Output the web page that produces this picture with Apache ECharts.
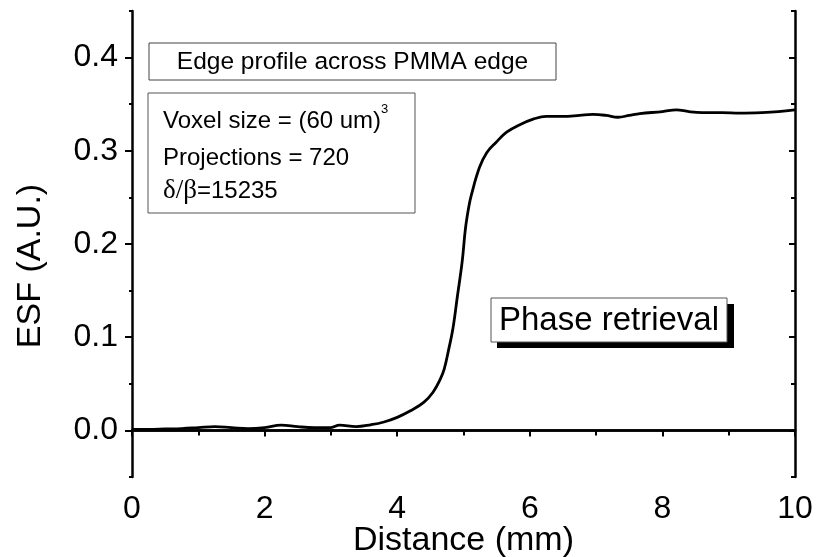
<!DOCTYPE html>
<html><head><meta charset="utf-8">
<script src="https://cdn.jsdelivr.net/npm/echarts@6/dist/echarts.min.js"></script>
<style>html,body{margin:0;padding:0;background:#fff}#c{width:816px;height:557px}</style>
</head><body><div id="c"></div>
<script>
const distance = [0, 0.25, 0.5, 0.75, 1.0, 1.25, 1.5, 1.75, 2.0, 2.25, 2.5, 2.75, 3.0, 3.13, 3.38, 3.6, 3.8, 4.0, 4.2, 4.4, 4.54, 4.65, 4.71, 4.78, 4.84, 4.91, 4.98, 5.03, 5.08, 5.12, 5.24, 5.35, 5.49, 5.65, 5.85, 6.05, 6.25, 6.5, 6.75, 6.95, 7.15, 7.33, 7.5, 7.66, 8.0, 8.21, 8.4, 8.6, 8.9, 9.17, 9.5, 9.75, 10.0];
const esf = [0.001, 0.001, 0.0015, 0.002, 0.003, 0.004, 0.003, 0.002, 0.003, 0.0057, 0.004, 0.003, 0.003, 0.0057, 0.004, 0.006, 0.009, 0.014, 0.021, 0.030, 0.041, 0.055, 0.066, 0.088, 0.109, 0.145, 0.181, 0.217, 0.240, 0.253, 0.282, 0.298, 0.309, 0.320, 0.328, 0.334, 0.337, 0.337, 0.338, 0.339, 0.338, 0.336, 0.338, 0.340, 0.342, 0.344, 0.342, 0.341, 0.341, 0.3405, 0.341, 0.342, 0.344];
const xTickLabels = ['0', '2', '4', '6', '8', '10'];
const yMajorTicks = [0, 0.1, 0.2, 0.3, 0.4];
const yTickLabels = ['0.0', '0.1', '0.2', '0.3', '0.4'];
const xName = 'Distance (mm)';
const yName = 'ESF (A.U.)';
const boxTitle = 'Edge profile across PMMA edge';
const infoLines = ['Voxel size = (60 um)', 'Projections = 720'];
const deltaBeta = '=15235';
const tag = 'Phase retrieval';

const FONT = '"Liberation Sans", Arial, sans-serif';
const AX = { lineStyle: { color: '#000', width: 2.5 } };
const chart = echarts.init(document.getElementById('c'));
chart.setOption({
  animation: false,
  backgroundColor: '#fff',
  grid: { left: 132, right: 21, top: 11, bottom: 80, containLabel: false, outerBoundsMode: 'none' },
  xAxis: [
    { type: 'value', min: 0, max: 10, interval: 2, position: 'bottom',
      axisLine: AX, splitLine: { show: false },
      axisTick: { length: 6, lineStyle: { width: 2, color: '#000' } },
      minorTick: { show: true, splitNumber: 2, length: 4, lineStyle: { width: 2, color: '#000' } },
      axisLabel: { margin: 16, color: '#000', fontSize: 32, fontFamily: FONT,
        formatter: v => xTickLabels[Math.round(v / 2)] },
      name: xName, nameLocation: 'middle', nameGap: 47, nameMoveOverlap: false,
      nameTextStyle: { color: '#000', fontSize: 34, fontFamily: FONT } },
    { type: 'value', min: 0, max: 10, interval: 1, position: 'top',
      axisLine: AX, splitLine: { show: false },
      axisTick: { inside: true, length: 5, lineStyle: { width: 2, color: '#000' } },
      axisLabel: { show: false } }
  ],
  yAxis: [
    { type: 'value', min: -0.05, max: 0.45, interval: 0.05, position: 'left',
      axisLine: AX, splitLine: { show: false },
      axisTick: { length: 3, lineStyle: { width: 2, color: '#000' } },
      axisLabel: { show: false },
      name: yName, nameLocation: 'middle', nameGap: 84, nameMoveOverlap: false,
      nameTextStyle: { color: '#000', fontSize: 34, fontFamily: FONT, padding: [0, 44, 0, 0] } },
    { type: 'value', min: -0.05, max: 0.45, position: 'left',
      axisLine: { show: false }, splitLine: { show: false },
      axisTick: { length: 7, customValues: yMajorTicks, lineStyle: { width: 2, color: '#000' } },
      axisLabel: { margin: 14, color: '#000', fontSize: 32, fontFamily: FONT, customValues: yMajorTicks,
        formatter: v => { const i = yMajorTicks.findIndex(t => Math.abs(t - v) < 1e-9); return i >= 0 ? yTickLabels[i] : ''; } } },
    { type: 'value', min: -0.05, max: 0.45, interval: 0.05, position: 'right',
      axisLine: AX, splitLine: { show: false },
      axisTick: { inside: true, length: 4, lineStyle: { width: 2, color: '#000' } },
      axisLabel: { show: false } },
    { type: 'value', min: -0.05, max: 0.45, position: 'right',
      axisLine: { show: false }, splitLine: { show: false },
      axisTick: { inside: true, length: 6, customValues: yMajorTicks, lineStyle: { width: 2, color: '#000' } },
      axisLabel: { show: false } }
  ],
  series: [{
    type: 'line', xAxisIndex: 0, yAxisIndex: 0,
    data: distance.map((x, i) => [x, esf[i]]),
    showSymbol: false, smooth: 0.4,
    lineStyle: { color: '#000', width: 2.8 }, z: 3
  }],
  graphic: [
    { type: 'rect', shape: { x: 149, y: 43, width: 407, height: 37 },
      style: { fill: '#fff', stroke: '#444', lineWidth: 1 }, z: 10 },
    { type: 'text', x: 352.5, y: 62, z: 11,
      style: { text: boxTitle, fill: '#000', font: '24.5px ' + FONT, align: 'center', verticalAlign: 'middle' } },
    { type: 'rect', shape: { x: 148, y: 93, width: 267, height: 120 },
      style: { fill: '#fff', stroke: '#555', lineWidth: 1 }, z: 10 },
    { type: 'text', x: 163, y: 121, z: 11,
      style: { text: '{a|' + infoLines[0] + '}{s|3}', align: 'left', verticalAlign: 'middle',
        rich: { a: { fontSize: 24, fontFamily: FONT, fill: '#000', lineHeight: 36 },
                s: { fontSize: 13, fontFamily: FONT, fill: '#000', lineHeight: 18, verticalAlign: 'top' } } } },
    { type: 'text', x: 163, y: 158, z: 11,
      style: { text: infoLines[1], fill: '#000', font: '24px ' + FONT, align: 'left', verticalAlign: 'middle' } },
    { type: 'text', x: 163, y: 191, z: 11,
      style: { text: '{g|δ/β}{n|' + deltaBeta + '}', align: 'left', verticalAlign: 'middle',
        rich: { g: { fontSize: 27, fontFamily: '"Liberation Serif", "DejaVu Serif", serif', fill: '#000' },
                n: { fontSize: 24, fontFamily: FONT, fill: '#000' } } } },
    { type: 'rect', shape: { x: 497, y: 304, width: 237, height: 44 },
      style: { fill: '#000' }, z: 10 },
    { type: 'rect', shape: { x: 491, y: 298, width: 236, height: 44 },
      style: { fill: '#fff', stroke: '#555', lineWidth: 1 }, z: 10 },
    { type: 'text', x: 609, y: 321, z: 11,
      style: { text: tag, fill: '#000', font: '33px ' + FONT, align: 'center', verticalAlign: 'middle' } }
  ]
});
</script>
</body></html>
